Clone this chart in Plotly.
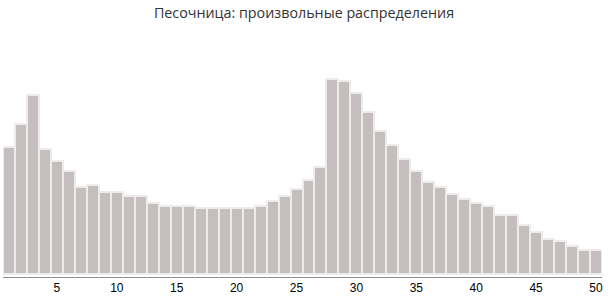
import plotly.graph_objects as go

categories = list(range(1, 51))
values = [54, 64, 76, 53, 48, 44, 37, 38, 35, 35,
          33, 33, 30, 29, 29, 29, 28, 28, 28, 28,
          28, 29, 31, 33, 36, 40, 45.5, 83, 82, 77,
          69, 61, 55, 49, 44, 39, 37, 34, 32, 30,
          29, 25, 25, 21, 18, 15, 14, 12, 10, 10]
tick_vals = [5, 10, 15, 20, 25, 30, 35, 40, 45, 50]
title_text = "Песочница: произвольные распределения"

fig = go.Figure(go.Bar(
    x=categories, y=values,
    marker=dict(color="#c4bebe", line=dict(color="#eeebeb", width=2)),
    hoverinfo="x+y",
))

fig.update_layout(
    width=608, height=304,
    margin=dict(l=3, r=6, t=40, b=27),
    paper_bgcolor="white", plot_bgcolor="white",
    bargap=0,
    showlegend=False,
    title=dict(text=title_text, x=0.5, xanchor="center",
               y=1 - 13 / 304, yref="container", yanchor="middle",
               font=dict(family="Open Sans", size=14.3, color="#333333")),
    xaxis=dict(range=[0.5, 50.5], tickvals=tick_vals, ticks="",
               showgrid=False, zeroline=False, showline=True,
               linecolor="#8c8c8c", linewidth=1,
               tickfont=dict(family="Liberation Sans", size=12, color="#000000")),
    yaxis=dict(range=[-1.3, 99.55], visible=False, showgrid=False, zeroline=False),
)

fig.write_html("out.html")
